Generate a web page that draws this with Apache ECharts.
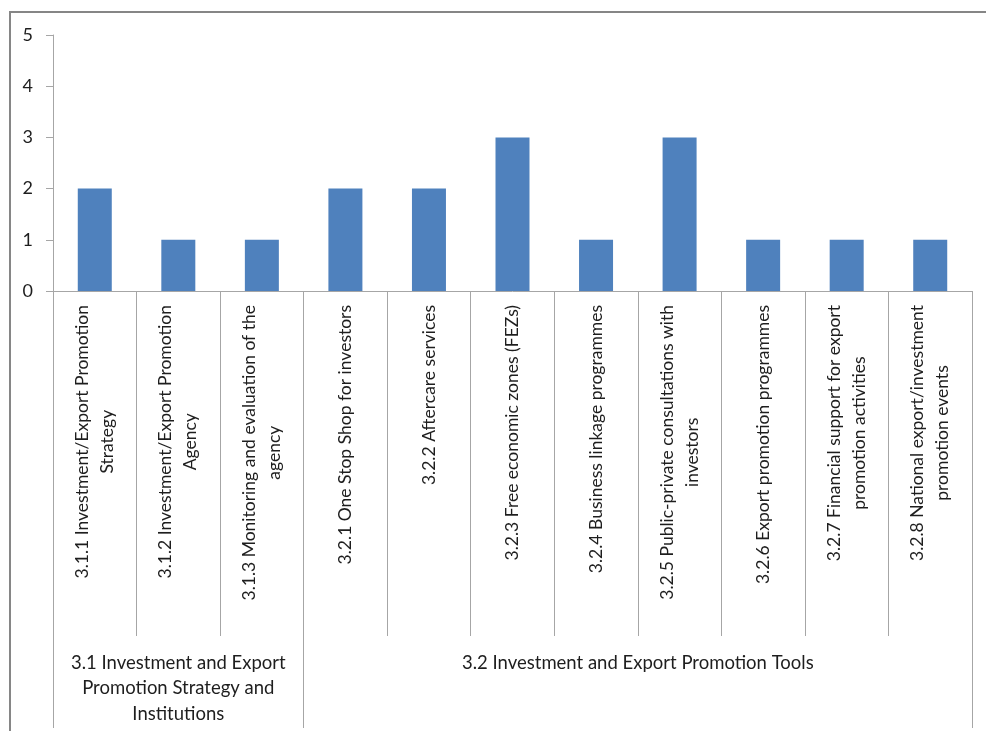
<!DOCTYPE html>
<html>
<head>
<meta charset="utf-8">
<title>Investment and Export Promotion</title>
<script src="https://cdn.jsdelivr.net/npm/echarts@6/dist/echarts.min.js"></script>
<style>
  html, body { margin: 0; padding: 0; background: #fff; }
  #chart { width: 986px; height: 731px; }
</style>
</head>
<body>
<div id="chart"></div>
<script>
// Sub-indicator labels (line breaks as printed under each bar)
const categories = [
  '3.1.1 Investment/Export Promotion\nStrategy',
  '3.1.2 Investment/Export Promotion\nAgency',
  '3.1.3 Monitoring and evaluation of the\nagency',
  '3.2.1 One Stop Shop for investors',
  '3.2.2 Aftercare services',
  '3.2.3 Free economic zones (FEZs)',
  '3.2.4 Business linkage programmes',
  '3.2.5 Public-private consultations with\ninvestors',
  '3.2.6 Export promotion programmes',
  '3.2.7 Financial support for export\npromotion activities',
  '3.2.8 National export/investment\npromotion events'
];

// Scores per sub-indicator
const values = [2, 1, 1, 2, 2, 3, 1, 3, 1, 1, 1];

// Indicator groups: label and how many sub-indicators each covers
const groupNames = [
  '3.1 Investment and Export\nPromotion Strategy and\nInstitutions',
  '3.2 Investment and Export Promotion Tools'
];
const groupSizes = [3, 8];

// Value axis ticks
const yTicks = [0, 1, 2, 3, 4, 5];

const FONT = 'Lato';
const TEXT = '#1e1e1e';
const AXIS = '#A6A6A6';

// first category index of every group
const groupStarts = [];
let acc = 0;
groupSizes.forEach(n => { groupStarts.push(acc); acc += n; });

const chart = echarts.init(document.getElementById('chart'));

const option = {
  animation: false,
  backgroundColor: '#ffffff',
  grid: { left: 53, right: 14, top: 35, bottom: 440, containLabel: false },
  xAxis: [
    {
      type: 'category',
      position: 'bottom',
      data: categories,
      boundaryGap: true,
      axisLine: { show: true, lineStyle: { color: AXIS, width: 1 } },
      axisTick: { show: true, interval: 0, length: 345, lineStyle: { color: AXIS, width: 1 } },
      axisLabel: {
        show: true,
        interval: 0,
        rotate: 90,
        margin: 14,
        color: TEXT,
        fontFamily: FONT,
        fontSize: 17.5,
        lineHeight: 25,
        formatter: v => v.split('\n').map(s => '{c|' + s + '}').join('\n'),
        rich: {
          c: { align: 'center', color: TEXT, fontFamily: FONT, fontSize: 17.5, lineHeight: 25 }
        }
      },
      splitLine: { show: false }
    },
    {
      // group separators spanning both label rows
      type: 'category',
      position: 'bottom',
      data: categories,
      boundaryGap: true,
      axisLine: { show: false },
      axisTick: {
        show: true,
        interval: i => groupStarts.indexOf(i) >= 0,
        length: 437,
        lineStyle: { color: AXIS, width: 1 }
      },
      axisLabel: { show: false },
      splitLine: { show: false }
    }
  ],
  yAxis: {
    type: 'value',
    min: yTicks[0],
    max: yTicks[yTicks.length - 1],
    interval: 1,
    axisLine: { show: true, lineStyle: { color: AXIS, width: 1 } },
    axisTick: { show: true, length: 7, lineStyle: { color: AXIS, width: 1 } },
    axisLabel: { color: TEXT, fontFamily: FONT, fontSize: 18, margin: 20 },
    splitLine: { show: false }
  },
  series: [
    {
      type: 'bar',
      data: values,
      barWidth: 34,
      itemStyle: { color: '#4F81BD' }
    }
  ],
  graphic: [
    {
      // outer chart frame
      type: 'rect',
      silent: true,
      shape: { x: 10, y: 12, width: 1000, height: 800 },
      style: { fill: 'none', stroke: '#868686', lineWidth: 2 }
    }
  ]
};

chart.setOption(option);

// Group captions centred under their span of categories
const groupLabels = groupNames.map((name, gi) => {
  const first = groupStarts[gi];
  const last = first + groupSizes[gi] - 1;
  const x0 = chart.convertToPixel({ xAxisIndex: 0 }, categories[first]);
  const x1 = chart.convertToPixel({ xAxisIndex: 0 }, categories[last]);
  const y0 = chart.convertToPixel({ yAxisIndex: 0 }, 0);
  return {
    type: 'text',
    silent: true,
    x: (x0 + x1) / 2,
    y: y0 + 359,
    style: {
      text: name,
      align: 'center',
      verticalAlign: 'top',
      fill: TEXT,
      font: '18.5px ' + FONT,
      lineHeight: 25.5
    }
  };
});

chart.setOption({ graphic: option.graphic.concat(groupLabels) });
</script>
</body>
</html>
